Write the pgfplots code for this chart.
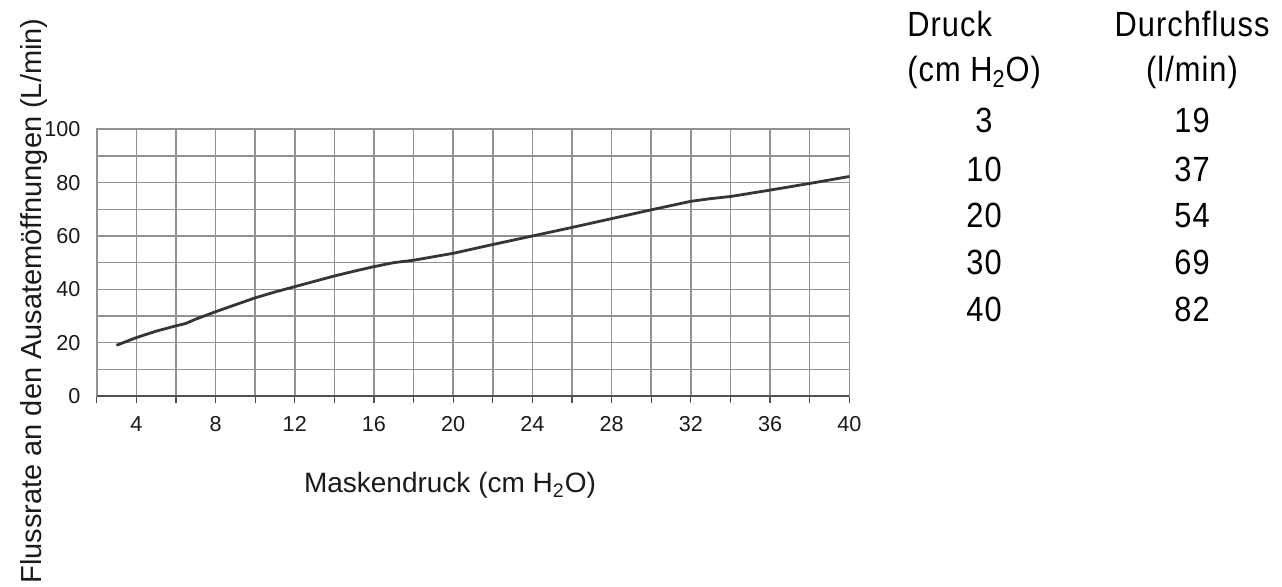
\documentclass[border=0pt]{standalone}
\usepackage{fontspec}
\setmainfont{Liberation Sans}
\newfontfamily\tabfont[FakeStretch=0.88,LetterSpace=3]{Liberation Sans}
\usepackage{pgfplots}
\pgfplotsset{compat=1.18}

\definecolor{gridgray}{HTML}{929292}
\definecolor{curvegray}{HTML}{353535}
\definecolor{axisdark}{HTML}{505050}
\definecolor{labeltext}{HTML}{1A1A1A}

\begin{document}
\begin{tikzpicture}
\useasboundingbox (0,0) rectangle (641bp,293.5bp);

\begin{axis}[
    at={(48.35bp,95.5bp)}, anchor=south west,
    scale only axis, width=376.3bp, height=133.35bp,
    xmin=2, xmax=40, ymin=0, ymax=100,
    xtick={4,8,...,40}, minor xtick={2,6,...,38},
    ytick={0,20,...,100}, minor ytick={10,30,...,90},
    grid=both,
    major grid style={gridgray, line width=0.8bp},
    minor grid style={gridgray, line width=0.8bp},
    axis line style={gridgray, line width=0.8bp},
    xtick pos=lower, tick align=outside,
    major tick length=3.5bp, minor tick length=3.5bp,
    xtick style={axisdark, line width=0.6bp},
    ytick style={draw=none},
    /pgf/number format/assume math mode=true,
    ticklabel style={font=\fontsize{10.8bp}{12bp}\selectfont, text=labeltext, inner sep=0pt},
    xticklabel style={anchor=north, yshift=-6.5bp},
    yticklabel style={anchor=east, xshift=-4.5bp},
    xlabel={Maskendruck (cm H\textsubscript{2}O)},
    xlabel style={at={(axis description cs:0.4694,-0.3637)}, anchor=base,
        font=\fontsize{14bp}{16bp}\selectfont, text=labeltext},
    ylabel={Flussrate an den Ausatemöffnungen (L/min)},
    ylabel style={at={(axis description cs:-0.0727,0.356)}, anchor=base,
        font=\fontsize{14.5bp}{16bp}\selectfont, text=labeltext},
    clip=false,
]
    \addplot[curvegray, line width=1.4bp] coordinates {
        (3,19) (4,21.9) (5,24.3) (6,26.3) (6.5,27.2) (7,28.8) (8,31.6)
        (9,34.2) (10,36.8) (11,39) (12,41) (13,43) (14,45) (15,46.8)
        (16,48.5) (17,50) (18,50.9) (19,52.2) (20,53.5) (22,56.8)
        (24,60) (26,63.2) (28,66.5) (30,69.8) (32,73) (33,74) (34,74.8)
        (36,77.2) (38,79.7) (40,82.3)
    };
    % dark bottom axis line
    \draw[axisdark, line width=1.2bp] (axis cs:2,0) -- (axis cs:40,0);
\end{axis}

% value table on the right
\begin{scope}[every node/.style={font=\tabfont\fontsize{17.5bp}{20bp}\selectfont, text=black, inner sep=0pt}]
    \node[anchor=base west] at (453.5bp,275bp) {Druck};
    \node[anchor=base west] at (453.5bp,252.5bp) {(cm H\textsubscript{2}O)};
    \node[anchor=base] at (596bp,275bp) {Durchfluss};
    \node[anchor=base] at (596bp,252.5bp) {(l/min)};
    \node[anchor=base] at (492bp,227bp) {3};
    \node[anchor=base] at (492bp,202.5bp) {10};
    \node[anchor=base] at (492bp,179.5bp) {20};
    \node[anchor=base] at (492bp,156bp) {30};
    \node[anchor=base] at (492bp,132.5bp) {40};
    \node[anchor=base] at (596bp,227bp) {19};
    \node[anchor=base] at (596bp,202.5bp) {37};
    \node[anchor=base] at (596bp,179.5bp) {54};
    \node[anchor=base] at (596bp,156bp) {69};
    \node[anchor=base] at (596bp,132.5bp) {82};
\end{scope}
\end{tikzpicture}
\end{document}
